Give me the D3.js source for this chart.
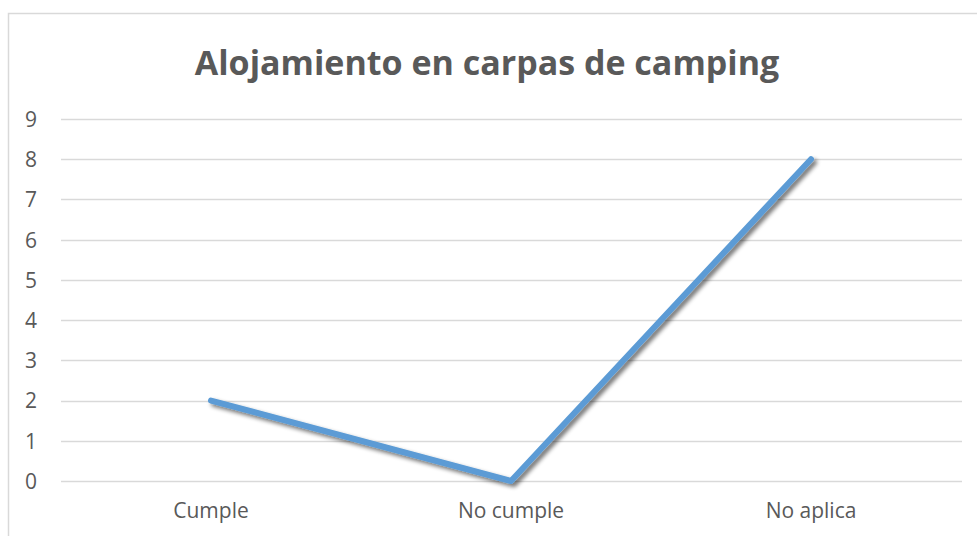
<!DOCTYPE html>
<html>
<head>
<meta charset="utf-8">
<script src="https://cdn.jsdelivr.net/npm/d3@7"></script>
<style>
  body { margin: 0; background: #fff; }
  svg { display: block; }
  text { font-family: "Open Sans", "Noto Sans", sans-serif; fill: #595959; }
  .grid line { stroke: #d9d9d9; stroke-width: 1.3; }
</style>
</head>
<body>
<svg></svg>
<script>
var width = 977,
    height = 536;

// data
var categories = ["Cumple", "No cumple", "No aplica"];
var values = [2, 0, 8];
var yTicks = [0, 1, 2, 3, 4, 5, 6, 7, 8, 9];
var chartTitle = "Alojamiento en carpas de camping";

var margin = {left: 61, right: 15, top: 119, bottom: 55};

var svg = d3.select("svg")
    .attr("width", width)
    .attr("height", height);

// chart border (top + left visible)
svg.append("path")
    .attr("d", "M8.5," + height + "V13.5H" + width)
    .attr("fill", "none")
    .attr("stroke", "#d9d9d9")
    .attr("stroke-width", 1.5);

var defs = svg.append("defs");
var shadow = defs.append("filter")
    .attr("id", "shadow")
    .attr("x", "-20%").attr("y", "-20%")
    .attr("width", "140%").attr("height", "140%");
shadow.append("feGaussianBlur")
    .attr("in", "SourceAlpha")
    .attr("stdDeviation", 2.2);
shadow.append("feOffset")
    .attr("dx", 2.5).attr("dy", 3)
    .attr("result", "off");
shadow.append("feComponentTransfer")
    .append("feFuncA").attr("type", "linear").attr("slope", 0.55);
var merge = shadow.append("feMerge");
merge.append("feMergeNode");
merge.append("feMergeNode").attr("in", "SourceGraphic");

var x = d3.scaleBand()
    .domain(categories)
    .range([margin.left, 961]);

var y = d3.scaleLinear()
    .domain([0, 9])
    .range([481, margin.top]);

// gridlines
svg.append("g")
    .attr("class", "grid")
    .selectAll("line")
    .data(yTicks)
    .enter().append("line")
    .attr("x1", margin.left)
    .attr("x2", 962)
    .attr("y1", function(d){ return Math.round(y(d)) + 0.5; })
    .attr("y2", function(d){ return Math.round(y(d)) + 0.5; });

// y axis labels
var yAxis = svg.append("g")
    .attr("transform", "translate(" + 37 + ",0)")
    .call(d3.axisLeft(y).tickValues(yTicks).tickSize(0).tickPadding(0));
yAxis.select(".domain").remove();
yAxis.selectAll("text")
    .attr("dy", "0.35em")
    .style("font-size", "21px")
    .style("font-family", "'Open Sans', sans-serif")
    .attr("fill", "#595959");

// x axis labels
var xAxis = svg.append("g")
    .attr("transform", "translate(0,481)")
    .call(d3.axisBottom(x).tickSize(0).tickPadding(0));
xAxis.select(".domain").remove();
xAxis.selectAll("text")
    .attr("y", 37)
    .attr("dy", 0)
    .style("font-size", "21px")
    .style("font-family", "'Open Sans', sans-serif")
    .attr("fill", "#595959");

// line
var line = d3.line()
    .x(function(d, i){ return x(categories[i]) + x.bandwidth() / 2; })
    .y(function(d){ return y(d); });

svg.append("path")
    .datum(values)
    .attr("d", line)
    .attr("fill", "none")
    .attr("stroke", "#5b9bd5")
    .attr("stroke-width", 6)
    .attr("stroke-linecap", "round")
    .attr("stroke-linejoin", "round")
    .attr("filter", "url(#shadow)");

// title
svg.append("text")
    .attr("x", 487)
    .attr("y", 75)
    .attr("text-anchor", "middle")
    .style("font-size", "34px")
    .style("font-weight", "bold")
    .text(chartTitle);
</script>
</body>
</html>
